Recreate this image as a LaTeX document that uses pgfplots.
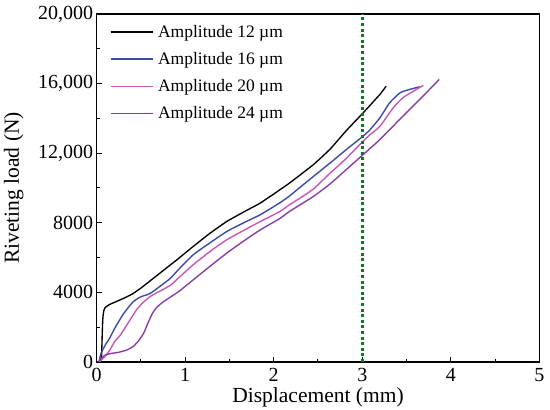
\documentclass[border=0pt]{standalone}
\usepackage{pgfplots}
\pgfplotsset{compat=1.18}
\usepackage{fontspec}
\setmainfont{Liberation Serif}
\definecolor{c12}{RGB}{0,0,0}
\definecolor{c16}{RGB}{60,76,160}
\definecolor{c20}{RGB}{200,86,184}
\definecolor{c24}{RGB}{140,62,168}
\definecolor{cgr}{RGB}{25,115,45}
\begin{document}
\begin{tikzpicture}
\useasboundingbox (-96.7pt,-48pt) rectangle (453.3pt,362pt);
\begin{axis}[
 at={(0pt,0pt)}, anchor=south west,
 width=442.6pt, height=348pt, scale only axis,
 xmin=0, xmax=5, ymin=0, ymax=20000,
 xtick={0,1,2,3,4,5}, ytick={0,4000,8000,12000,16000,20000},
 yticklabels={0,4000,8000,{12,000},{16,000},{20,000}},
 minor x tick num=1, minor y tick num=1,
 tick align=inside, xtick pos=bottom, ytick pos=left,
 major tick length=5pt, minor tick length=3pt,
 every tick/.style={black, line width=1pt},
 axis line style={line width=1.2pt},
 /pgf/number format/assume math mode=true,
 ticklabel style={font=\fontsize{20}{24}\selectfont},
 xticklabel style={yshift=-3pt},
 scaled y ticks=false,
 xlabel={Displacement (mm)}, ylabel={Riveting load (N)},
 label style={font=\fontsize{21.5}{25}\selectfont},
 xlabel style={at={(axis description cs:0.5,-0.1178)}, anchor=base},
 ylabel style={at={(axis description cs:-0.1875,0.5)}, anchor=center},
 legend style={at={(axis description cs:0.030,0.9735)}, anchor=north west,
   draw=none, fill=none, inner sep=0pt, outer sep=0pt, row sep=9.5pt, column sep=2pt,
   nodes={inner sep=2pt}, font=\fontsize{17.5}{20}\selectfont, cells={anchor=west}},
 legend image code/.code={\draw[#1] (0pt,0pt) -- (42.7pt,0pt);},
]
\addplot[c12, line width=1.35pt, smooth, tension=0.2] coordinates {
(0.04,0) (0.055,400) (0.062,1500) (0.068,2400) (0.074,2750) (0.082,2980) (0.095,3120) (0.12,3230) (0.16,3340) (0.22,3470) (0.3,3650) (0.4,3900) (0.5,4250) (0.6,4650) (0.715,5110) (0.9,5850) (1.09,6640) (1.28,7400) (1.47,8080) (1.66,8620) (1.85,9140) (2.07,9900) (2.18,10290) (2.45,11350) (2.64,12250) (2.82,13300) (3.01,14320) (3.20,15380) (3.27,15850)
};
\addlegendentry{Amplitude 12 µm}
\addplot[c16, line width=1.4pt, smooth, tension=0.35] coordinates {
(0.026,0) (0.05,500) (0.1,1000) (0.15,1400) (0.2,1900) (0.3,2750) (0.41,3450) (0.5,3750) (0.6,3930) (0.715,4350) (0.83,4800) (0.94,5400) (1.09,6160) (1.28,6850) (1.47,7500) (1.66,8000) (1.85,8470) (2.07,9150) (2.18,9550) (2.30,10050) (2.45,10670) (2.64,11450) (2.82,12210) (3.01,12980) (3.09,13360) (3.20,14040) (3.31,14900) (3.43,15480) (3.54,15670) (3.65,15820)
};
\addlegendentry{Amplitude 16 µm}
\addplot[c20, line width=1.4pt, smooth, tension=0.35] coordinates {
(0.03,0) (0.08,250) (0.15,700) (0.2,1150) (0.26,1500) (0.3,1800) (0.38,2450) (0.45,3000) (0.52,3400) (0.6,3750) (0.68,3980) (0.83,4400) (0.94,4900) (1.09,5590) (1.28,6350) (1.47,7030) (1.66,7560) (1.85,8080) (2.07,8650) (2.18,9040) (2.30,9430) (2.45,9950) (2.64,10870) (2.82,11700) (3.01,12690) (3.09,13075) (3.20,13550) (3.35,14610) (3.46,15190) (3.58,15570) (3.69,15900)
};
\addlegendentry{Amplitude 20 µm}
\addplot[c24, line width=1.4pt, smooth, tension=0.35] coordinates {
(0.02,0) (0.05,200) (0.09,380) (0.15,480) (0.25,560) (0.34,690) (0.41,880) (0.47,1200) (0.53,1650) (0.58,2250) (0.63,2800) (0.68,3150) (0.75,3450) (0.83,3720) (0.94,4100) (1.09,4720) (1.28,5500) (1.47,6260) (1.66,6950) (1.85,7600) (2.07,8250) (2.18,8660) (2.45,9520) (2.64,10250) (2.82,11060) (3.01,11920) (3.20,12790) (3.46,14130) (3.65,15090) (3.87,16240)
};
\addlegendentry{Amplitude 24 µm}
\addplot[cgr, line width=2.8pt, dash pattern=on 3pt off 2.6pt, forget plot] coordinates {(3,0) (3,20000)};
\end{axis}
\end{tikzpicture}
\end{document}
